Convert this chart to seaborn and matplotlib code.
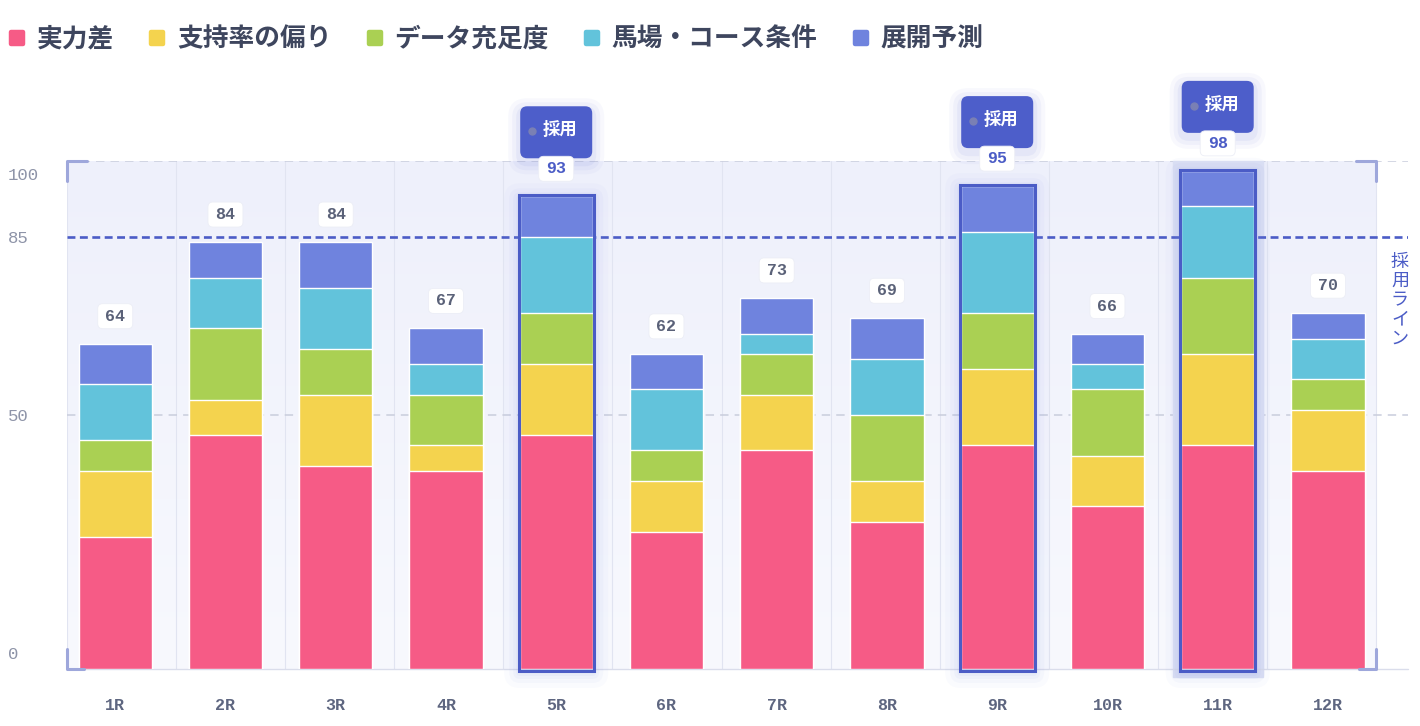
import matplotlib
matplotlib.use('Agg')
import matplotlib.pyplot as plt
from matplotlib.patches import FancyBboxPatch, Rectangle
from matplotlib.lines import Line2D
from matplotlib.markers import MarkerStyle
from matplotlib.colors import LinearSegmentedColormap
from matplotlib.transforms import ScaledTranslation
import numpy as np
import pandas as pd
import seaborn as sns

# --- data ---
races = ['1R', '2R', '3R', '4R', '5R', '6R', '7R', '8R', '9R', '10R', '11R', '12R']
segments = ['実力差', '支持率の偏り', 'データ充足度', '馬場・コース条件', '展開予測']
jitsuryoku = [26, 46, 40, 39, 46, 27, 43, 29, 44, 32, 44, 39]
shijiritsu = [13, 7, 14, 5, 14, 10, 11, 8, 15, 10, 18, 12]
juusoku = [6, 14, 9, 10, 10, 6, 8, 13, 11, 13, 15, 6]
baba = [11, 10, 12, 6, 15, 12, 4, 11, 16, 5, 14, 8]
tenkai = [8, 7, 9, 7, 8, 7, 7, 8, 9, 6, 7, 5]
adopted = ['5R', '9R', '11R']
focus_race = '11R'
threshold = 85
y_ticks = [0, 50, 85, 100]
y_ticklabels = ['0', '50', '85', '100']
badge_text = '採用'
line_text = '採用ライン'

colors = ['#F65B86', '#F4D34E', '#AAD053', '#62C3DB', '#6F83DE']
accent = '#4B5CC6'

df = pd.DataFrame({'race': races})
for seg, vals in zip(segments, [jitsuryoku, shijiritsu, juusoku, baba, tenkai]):
    df[seg] = vals
cum = df[segments].cumsum(axis=1)
totals = cum[segments[-1]].tolist()

sns.set_style('white')
plt.rcParams['font.family'] = ['Noto Sans CJK JP', 'DejaVu Sans']
mono = 'Liberation Mono'

W, H = 1420, 726
fig = plt.figure(figsize=(W / 100, H / 100), dpi=100)
# axes: left edge 66.7px, right 1408px, baseline at 669px, 100 at 160.7px
ax = fig.add_axes([66.7 / W, (H - 669) / H, (1408 - 66.7) / W, (669 - 160.7) / H])
x_lo, x_hi, x_inner = -0.44, 11.726, 11.44
DX = 1 / 110.25           # data units per pixel (x)
DY = 100 / (669 - 160.7)  # data units per pixel (y)


def px_box(cx, cy, w_px, h_px, r_px, **kw):
    w, h = w_px * DX, h_px * DY
    return FancyBboxPatch((cx - w / 2, cy - h / 2), w, h,
                          boxstyle=f'round,pad=0,rounding_size={r_px * DX}',
                          mutation_aspect=DY / DX, clip_on=False, **kw)


# plot background gradient
bg = LinearSegmentedColormap.from_list('bg', ['#F8F9FE', '#EEF0FB'])
ax.imshow(np.linspace(0, 1, 256).reshape(-1, 1), cmap=bg, origin='lower',
          extent=[x_lo, x_inner, 0, 100], aspect='auto', zorder=0)

# column separators
for k in range(13):
    xk = x_lo + k * (x_inner - x_lo) / 12
    ax.plot([xk, xk], [0, 100], color='#E1E4F1', lw=0.8, zorder=1)

# dashed grid and baseline
for yv in [50, 100]:
    ax.plot([x_lo, x_hi], [yv, yv], color='#C9CDDC', lw=1.1, ls=(0, (5.5, 4)), zorder=1)
ax.plot([x_lo, x_hi], [0, 0], color='#DADDEB', lw=1.0, zorder=2, clip_on=False)

# threshold line
ax.plot([x_lo, x_hi], [threshold, threshold], color=accent, lw=1.9,
        ls=(0, (3.0, 1.7)), zorder=2)

# focus band behind 11R
fi = races.index(focus_race)
ax.add_patch(Rectangle((fi - 0.41, -1.6), 0.82, 101.6, color='#DDE1F4',
                       zorder=1.5, clip_on=False))

# glow behind adopted bars
for r in adopted:
    i = races.index(r)
    t = totals[i]
    for pad, a in [(16, 0.04), (11, 0.05), (7, 0.06), (4, 0.07)]:
        ax.add_patch(px_box(i, (t / 2) - 3 * DY, 72 + 2 * pad, t / DY + 2 * pad, pad,
                            fc='#8D9BE8', ec='none', alpha=a, zorder=2.2))

# stacked bars (cumulative layers, top layer first)
for seg, c in zip(reversed(segments), reversed(colors)):
    sns.barplot(data=cum.assign(race=races), x='race', y=seg, order=races,
                color=c, saturation=1, width=0.663, edgecolor='white',
                linewidth=1.0, errorbar=None, ax=ax, zorder=3)

# outlines, badges
for r in adopted:
    i = races.index(r)
    t = totals[i]
    ax.add_patch(Rectangle((i - 0.342, -0.3), 0.684, t + 0.5, fill=False,
                           ec=accent, lw=2.2, zorder=5, clip_on=False))
    by = t + 64 * DY
    for pad, a in [(12, 0.05), (8, 0.07), (4, 0.09)]:
        ax.add_patch(px_box(i, by - 4 * DY, 72 + 2 * pad, 52 + 2 * pad, 7 + pad,
                            fc='#7A88E0', ec='none', alpha=a, zorder=5.5))
    ax.add_patch(px_box(i, by, 72, 52, 7, fc='#4D5ECA', ec='none', zorder=6))
    ax.plot(i - 24 * DX, by + 1 * DY, 'o', ms=5, color='#7A80B4', zorder=6.5, clip_on=False)
    ax.text(i + 4 * DX, by + 2 * DY, badge_text, ha='center', va='center',
            color='white', fontsize=12.5, fontweight='bold', zorder=6.5)

# value labels
for i, r in enumerate(races):
    t = totals[i]
    ly = t + 27.5 * DY
    ax.add_patch(px_box(i, ly, 35, 25, 5, fc='white', ec='#ECEEF6', lw=0.6, zorder=7))
    ax.text(i, ly, str(t), ha='center', va='center', fontfamily=mono,
            fontweight='bold', fontsize=12, zorder=8,
            color=accent if r in adopted else '#5A6178')

# corner brackets
bc = dict(color='#9EA7DB', lw=2.2, solid_joinstyle='round', solid_capstyle='round',
          zorder=4, clip_on=False)
ax.plot([x_lo, x_lo, x_lo + 20 * DX], [100 - 20 * DY, 100, 100], **bc)
ax.plot([x_lo, x_lo, x_lo + 17 * DX], [20 * DY, 0, 0], **bc)
ax.plot([x_inner - 20 * DX, x_inner, x_inner], [100, 100, 100 - 20 * DY], **bc)
ax.plot([x_inner - 17 * DX, x_inner, x_inner], [0, 0, 20 * DY], **bc)

# vertical threshold caption
ax.text(11.653, 72.6, '\n'.join(line_text), ha='center', va='center',
        color=accent, fontsize=13, linespacing=1.08, zorder=6)

ax.set_xlim(x_lo, x_hi)
ax.set_ylim(0, 100)
ax.set_xlabel('')
ax.set_ylabel('')
sns.despine(ax=ax, left=True, bottom=True)

ax.set_xticks(range(len(races)))
ax.set_xticklabels(races, fontfamily=mono, fontweight='bold', fontsize=12, color='#5E6680')
ax.tick_params(axis='x', length=0, pad=21)
ax.set_yticks(y_ticks)
ax.set_yticklabels(y_ticklabels, fontfamily=mono, fontsize=12.5, color='#8E94A8')
ax.tick_params(axis='y', length=0, pad=42.5)
for lab, yv in zip(ax.get_yticklabels(), y_ticks):
    lab.set_horizontalalignment('left')
    if yv == 0:
        lab.set_transform(lab.get_transform() + ScaledTranslation(0, 16 / 100, fig.dpi_scale_trans))
    if yv == 100:
        lab.set_transform(lab.get_transform() + ScaledTranslation(0, -13 / 100, fig.dpi_scale_trans))

# legend
handles = [Line2D([], [], marker=MarkerStyle('s', joinstyle='round'), linestyle='none',
                  markersize=8.5, markeredgewidth=3.2, color=c) for c in colors]
fig.legend(handles, segments, loc='center left', bbox_to_anchor=(8 / W, 1 - 39 / H),
           ncol=5, frameon=False, borderpad=0, borderaxespad=0,
           handlelength=0.7, handletextpad=0.42, columnspacing=1.33,
           prop=dict(family=['Noto Sans CJK JP', 'DejaVu Sans'], weight='bold', size=18.5),
           labelcolor='#3E465E')

fig.savefig('out.png', dpi=100)
